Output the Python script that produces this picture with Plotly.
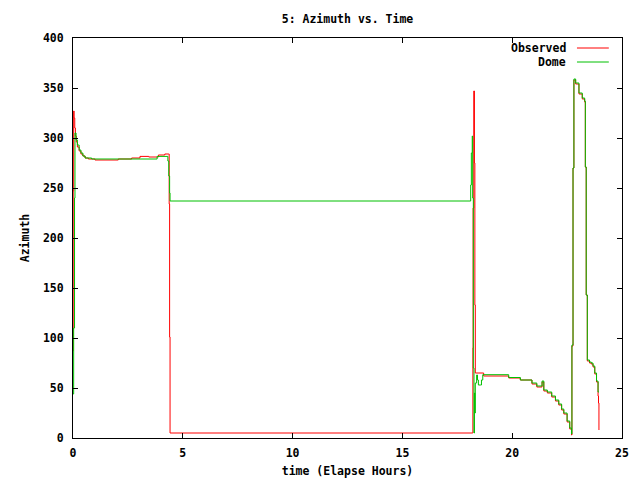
import plotly.graph_objects as go

# Observed azimuth (red), hours vs degrees
obs_time = [0.00, 0.01, 0.03, 0.05, 0.08, 0.11, 0.15, 0.20, 0.28, 0.36, 0.45, 0.55, 0.70,
            1.00, 2.06, 2.67, 3.05, 3.45, 3.89, 4.18, 4.36, 4.38, 4.40, 4.42,
            18.20, 18.21, 18.22, 18.25, 18.28, 18.30, 18.32, 18.70, 19.84, 20.37,
            20.90, 21.12, 21.36, 21.44, 21.60, 21.80, 21.97, 22.12, 22.25, 22.35,
            22.50, 22.62, 22.70, 22.72, 22.77, 22.81, 22.89, 23.04, 23.19, 23.30,
            23.33, 23.37, 23.42, 23.52, 23.60, 23.68, 23.76, 23.84, 23.91, 23.93, 23.95]
obs_az = [87, 247, 327, 320, 310, 302, 296, 291, 287, 284, 282, 280, 279,
          278, 279, 280, 281.6, 281, 283, 284, 284, 234, 101, 5,
          5, 90, 230, 347, 275, 133, 65, 62, 60, 58,
          54, 51, 56, 47, 45, 41, 37, 33, 28, 24,
          16, 9, 3, 92, 270, 358, 354, 344, 339, 336,
          271, 143, 77, 75, 74, 71, 64, 56, 42, 35, 8]

# Dome azimuth (green)
dome_time = [0.00, 0.03, 0.07, 0.09, 0.14, 0.20, 0.28, 0.36, 0.45, 0.55, 0.85,
             3.83, 4.32, 4.36, 4.40, 4.42,
             18.11, 18.14, 18.18, 18.20, 18.23, 18.26, 18.28, 18.30, 18.32, 18.38,
             18.42, 18.46, 18.55, 18.60, 18.66, 19.84, 20.37, 20.90, 21.12, 21.36,
             21.44, 21.60, 21.80, 21.97, 22.12, 22.25, 22.35, 22.50, 22.62, 22.70,
             22.72, 22.77, 22.81, 22.89, 23.04, 23.19, 23.30, 23.33, 23.37, 23.42,
             23.52, 23.60, 23.68, 23.76, 23.84, 23.91, 23.95]
dome_az = [44, 110, 240, 305, 298, 293, 288, 285, 282, 280, 279,
           281.6, 277, 262, 245, 237,
           253, 285, 302, 240, 70, 5, 45, 25, 55, 63,
           58, 53, 53, 58, 63.3, 60.5, 58, 55, 52, 57,
           48, 46, 42, 38, 34, 29, 25, 17, 10, 4,
           93, 270, 359, 355, 345, 340, 337, 271, 143, 78,
           76, 75, 72, 65, 57, 46, 46]

x_ticks = [0, 5, 10, 15, 20, 25]
y_ticks = [0, 50, 100, 150, 200, 250, 300, 350, 400]

FONT = dict(family="DejaVu Sans Mono", size=11.5, color="black", weight="bold")

fig = go.Figure()
fig.add_trace(go.Scatter(x=obs_time, y=obs_az, name="Observed", mode="lines",
                         line=dict(color="#ff0000", width=1, shape="hv")))
fig.add_trace(go.Scatter(x=dome_time, y=dome_az, name="Dome", mode="lines",
                         line=dict(color="#00c000", width=1, shape="hv")))

axis_common = dict(
    showgrid=False, zeroline=False,
    showline=True, linecolor="black", linewidth=1, mirror="ticks",
    ticks="inside", ticklen=5, tickcolor="black", tickwidth=1,
    tickfont=FONT, automargin=False,
)

fig.update_layout(
    width=640, height=480,
    margin=dict(l=73, r=18, t=38, b=42),
    paper_bgcolor="white", plot_bgcolor="white",
    showlegend=False,
    font=FONT,
    title=dict(text="5: Azimuth vs. Time", x=0.5, xref="paper", xanchor="center",
               y=1 - 19 / 480, yref="container", yanchor="middle", font=FONT),
    xaxis=dict(range=[0, 25], tickvals=x_ticks, ticklabelstandoff=4,
               title=dict(text="time (Elapse Hours)", font=FONT, standoff=8),
               **axis_common),
    yaxis=dict(range=[0, 400], tickvals=y_ticks, ticklabelstandoff=6,
               title=dict(text="Azimuth", font=FONT, standoff=10),
               **axis_common),
)

# gnuplot-style key: label text on the left, line sample on the right
for i, (name, color) in enumerate([("Observed", "#ff0000"), ("Dome", "#00c000")]):
    yk = 1 - (10 + 14 * i) / 400
    fig.add_annotation(text=name, xref="paper", yref="paper", x=0.902, y=yk,
                       xanchor="right", yanchor="middle", showarrow=False, font=FONT)
    fig.add_shape(type="line", xref="paper", yref="paper", x0=0.918, x1=0.976,
                  y0=yk, y1=yk, line=dict(color=color, width=1))

# page has a default 8px body margin; drop it so the 640x480 figure sits at 0,0
fig.write_html("out.html", config={"displayModeBar": False},
               post_script="document.body.style.margin = '0';")
